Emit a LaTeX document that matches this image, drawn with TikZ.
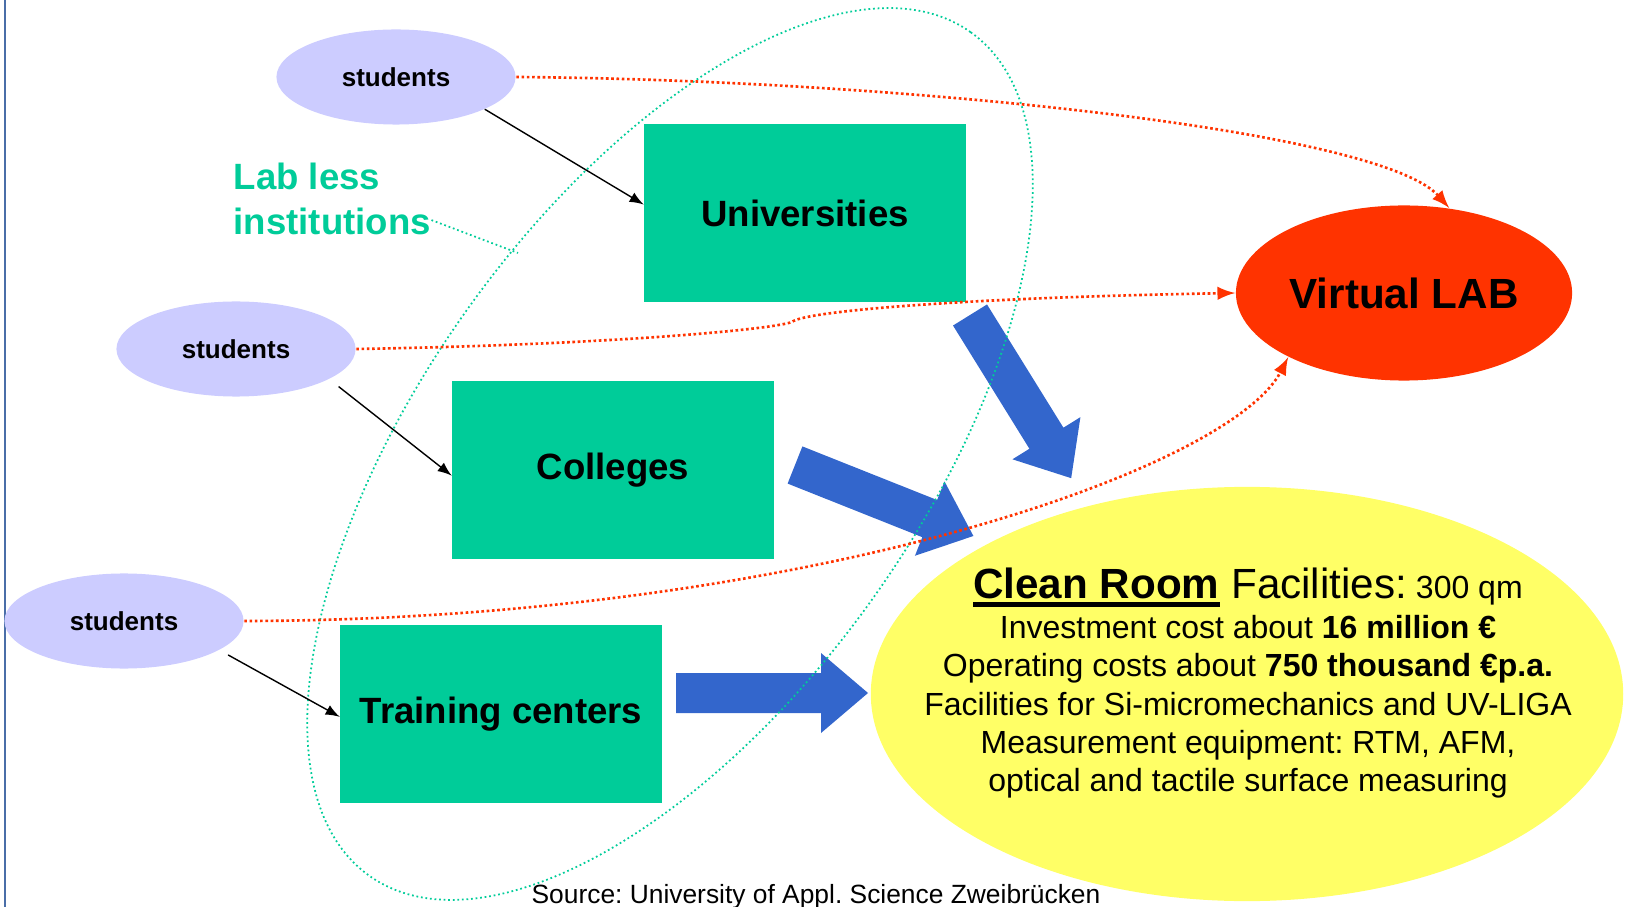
\documentclass[tikz,border=0pt]{standalone}
\usepackage{fontspec}
\setmainfont{Liberation Sans}
\usetikzlibrary{shapes.geometric}
\frenchspacing

\definecolor{lavender}{HTML}{CCCCFF}
\definecolor{instgreen}{HTML}{00CC99}
\definecolor{labred}{HTML}{FF3300}
\definecolor{roomyellow}{HTML}{FFFF66}
\definecolor{flowblue}{HTML}{3366CC}
\definecolor{borderblue}{HTML}{4A6EA8}

\newcommand{\thickul}[1]{\leavevmode\vtop{\hbox{#1}\kern0.9pt\hrule height 1.4pt}}
\newcommand{\flowarrow}[2]{%
  \fill[flowblue, shift={#1}, rotate=#2]
    (0,-20) -- (145,-20) -- (145,-40) -- (192,0) -- (145,40) -- (145,20) -- (0,20) -- cycle;}

\begin{document}
\begin{tikzpicture}
    [x=0.01cm, y=-0.01cm,
    >=latex,
    line cap=round,
    line join=round,
    students/.style={ellipse, fill=lavender, minimum width=2.39cm, minimum height=0.95cm,
        inner sep=0pt, font=\fontsize{7.4}{9}\selectfont\bfseries},
    institution/.style={fill=instgreen, minimum width=3.21cm, minimum height=1.77cm,
        inner sep=0pt, font=\fontsize{10.4}{12.5}\selectfont\bfseries},
    reddotted/.style={->, labred, line width=0.75pt, line cap=butt, dash pattern=on 0.75pt off 0.75pt},
    tealdotted/.style={instgreen, line width=0.5pt, line cap=butt, dash pattern=on 0.5pt off 0.8pt}]

    \useasboundingbox (0,0) rectangle (1625,907);
    \draw[borderblue, line width=0.6pt] (5,0) -- (5,907);

    % Blockpfeile
    \flowarrow{(970,315)}{-58.2}
    \flowarrow{(795,465)}{-21.7}
    \flowarrow{(676,693)}{0}

    % Lab less institutions
    \draw[tealdotted, rotate around={54.5:(670,454)}] (670,454) ellipse (518 and 249);

    \node[students] (s1) at (396,77) {students};
    \node[students] (s2) at (236,349) {students};
    \node[students] (s3) at (124,621) {students};

    \node[institution] (uni) at (805,213) {Universities};
    \node[institution] (col) at (613,470) {Colleges};
    \node[institution] (train) at (501,714) {Training centers};

    \node[ellipse, fill=labred, minimum width=3.36cm, minimum height=1.75cm, inner sep=0pt,
        font=\fontsize{12}{14}\selectfont\bfseries] (vlab) at (1404,293) {Virtual LAB};

    \node[ellipse, fill=roomyellow, minimum width=7.52cm, minimum height=4.14cm] (room) at (1247,694) {};
    \node[align=center, inner sep=0pt, font=\fontsize{9.1}{10.9}\selectfont] (facts) at (1248,683)
        {{\fontsize{12}{14}\selectfont\thickul{\bfseries Clean Room} Facilities:} 300 qm\\[0.5pt]
         Investment cost about \textbf{16 million €}\\
         Operating costs about \textbf{750 thousand €p.a.}\\
         Facilities for Si-micromechanics and UV-LIGA\\
         Measurement equipment: RTM, AFM,\\
         optical and tactile surface measuring};

    \node[anchor=west, align=left, inner sep=0pt, instgreen,
        font=\fontsize{10.4}{12.8}\selectfont\bfseries] (labless) at (233,199) {Lab less\\institutions};
    \draw[tealdotted] (labless.-12) -- (518,253);

    % Studenten
    \draw[->, thin] (s1.-20) -- (uni.177);
    \draw[->, thin, shorten <=0.12cm] (s2.-18) -- (col.182);
    \draw[->, thin, shorten <=0.1cm] (s3.-17) -- (train.181);

    \draw[reddotted] (s1.east) .. controls (900,80) and (1380,130) .. (vlab.62);
    \draw[reddotted] (s2.east) .. controls (600,345) and (770,330) .. (792,322)
        .. controls (802,312) and (950,298) .. (vlab.west);
    \draw[reddotted] (s3.east) .. controls (800,620) and (1230,470) .. (vlab.209);

    \node[anchor=base, inner sep=0pt, font=\fontsize{7.5}{9}\selectfont] (source) at (816,903)
        {Source: University of Appl. Science Zweibrücken};
\end{tikzpicture}
\end{document}
